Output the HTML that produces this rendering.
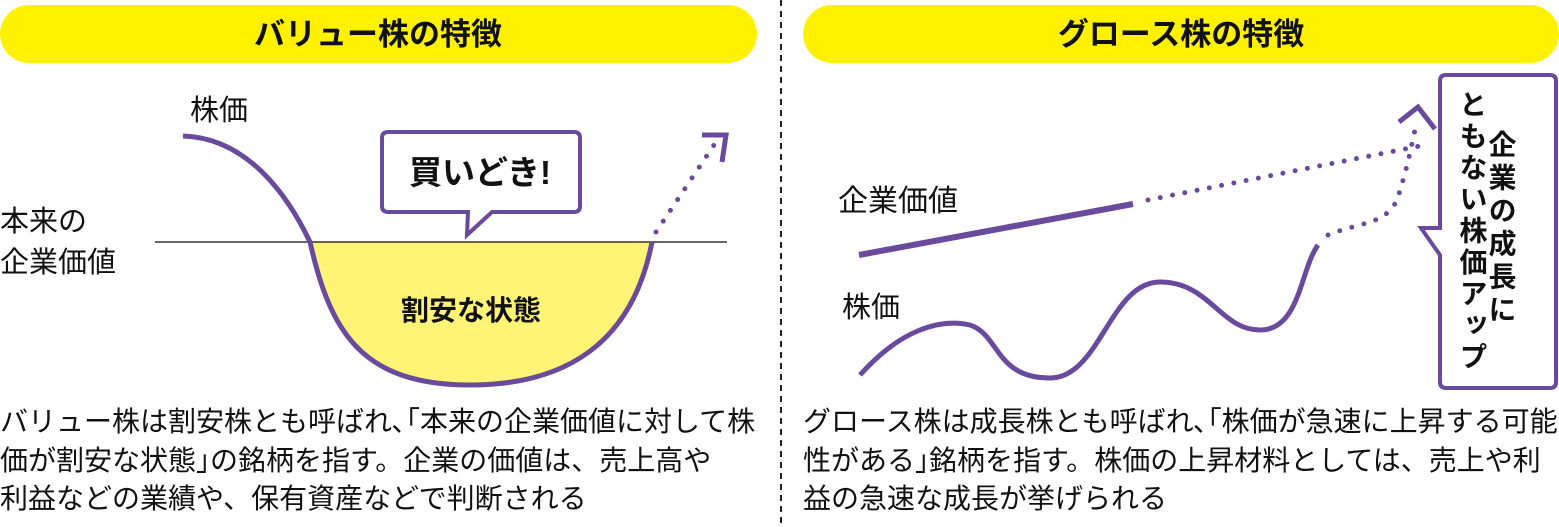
<!DOCTYPE html>
<html><head><meta charset="utf-8"><style>
body{margin:0;background:#fff;}
svg{display:block}
text{font-family:"Liberation Sans","Noto Sans CJK JP",sans-serif;fill:#111}
</style></head><body>
<svg width="1559" height="527" viewBox="0 0 1559 527" xmlns="http://www.w3.org/2000/svg">
<rect x="0" y="5" width="757" height="58" rx="29" fill="#fff100"/>
<rect x="803" y="5" width="756" height="58" rx="29" fill="#fff100"/>
<text x="378" y="45" font-size="31" font-weight="bold" text-anchor="middle">バリュー株の特徴</text>
<text x="1181" y="45" font-size="31" font-weight="bold" text-anchor="middle">グロース株の特徴</text>
<line x1="781" y1="0" x2="781" y2="527" stroke="#222" stroke-width="2" stroke-dasharray="6,5"/>

<!-- left -->
<path d="M310 242 C330 330 360 385 470 385 C580 385 635 330 652 242 Z" fill="#fff475"/>
<line x1="155" y1="242" x2="727" y2="242" stroke="#333" stroke-width="1.5"/>
<path d="M183 136 C250 138 290 200 310 242 C330 330 360 385 470 385 C580 385 635 330 652 242" fill="none" stroke="#6a4a9c" stroke-width="5"/>
<path d="M656 232 L716 142" fill="none" stroke="#6a4a9c" stroke-width="5" stroke-linecap="round" stroke-dasharray="0,13"/>
<path d="M702 135 L726 135 L722 162" fill="none" stroke="#6a4a9c" stroke-width="5"/>
<path d="M388 132 H574 Q580 132 580 138 V206 Q580 212 574 212 H492 L467 235 L468 212 H388 Q382 212 382 206 V138 Q382 132 388 132 Z" fill="#fff" stroke="#6a4a9c" stroke-width="4"/>
<text x="480" y="184" font-size="33" font-weight="bold" text-anchor="middle">買いどき!</text>
<text x="471" y="320" font-size="28" font-weight="bold" text-anchor="middle">割安な状態</text>
<text x="190" y="120" font-size="29">株価</text>
<text x="0" y="231" font-size="29">本来の</text>
<text x="0" y="272" font-size="29">企業価値</text>

<!-- right -->
<text x="838" y="211" font-size="30">企業価値</text>
<text x="842" y="317" font-size="29">株価</text>
<line x1="859" y1="255" x2="1133" y2="204" stroke="#6a4a9c" stroke-width="6"/>
<path d="M1148 200 L1425 145" fill="none" stroke="#6a4a9c" stroke-width="5" stroke-linecap="round" stroke-dasharray="0,12.5"/>
<path d="M860 375 C900 330 940 318 970 325 C1000 335 995 378 1050 378 C1100 378 1110 282 1160 282 C1210 282 1220 330 1260 330 C1300 330 1300 270 1318 245" fill="none" stroke="#6a4a9c" stroke-width="5"/>
<path d="M1328 235 C1360 222 1385 225 1397 200 C1410 160 1412 140 1417 122" fill="none" stroke="#6a4a9c" stroke-width="5" stroke-linecap="round" stroke-dasharray="0,12.5"/>
<path d="M1399 122 L1418 107 L1435 129" fill="none" stroke="#6a4a9c" stroke-width="5"/>
<path d="M1446 75 H1550 Q1556 75 1556 81 V382 Q1556 388 1550 388 H1446 Q1440 388 1440 382 V255 L1421 228 L1440 228 V81 Q1440 75 1446 75 Z" fill="#fff" stroke="#6a4a9c" stroke-width="4"/>
<text font-size="28" font-weight="bold" letter-spacing="5" x="1501" y="130" style="writing-mode:vertical-rl">企業の成長に</text>
<text font-size="28" font-weight="bold" letter-spacing="3.5" x="1472" y="90" style="writing-mode:vertical-rl">ともない株価アップ</text>

<!-- bottom text -->
<g font-size="28">
<text x="0" y="431">バリュー株は割安株とも呼ばれ､｢本来の企業価値に対して株</text>
<text x="0" y="470">価が割安な状態｣の銘柄を指す。企業の価値は、売上高や</text>
<text x="0" y="508">利益などの業績や、保有資産などで判断される</text>
<text x="803" y="431">グロース株は成長株とも呼ばれ､｢株価が急速に上昇する可能</text>
<text x="803" y="470">性がある｣銘柄を指す。株価の上昇材料としては、売上や利</text>
<text x="803" y="508">益の急速な成長が挙げられる</text>
</g>
</svg>
</body></html>
